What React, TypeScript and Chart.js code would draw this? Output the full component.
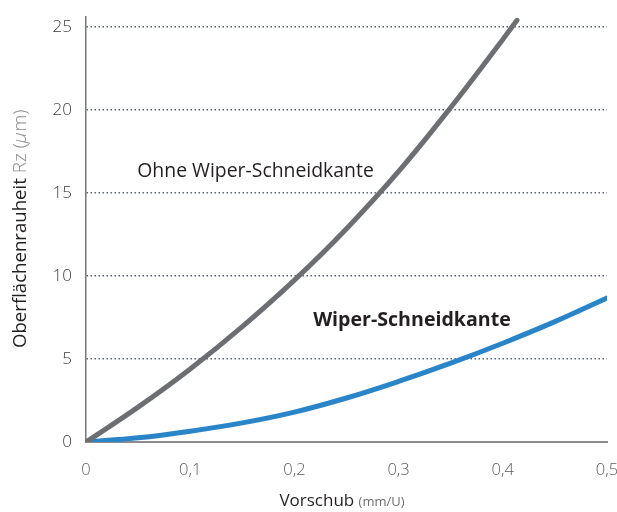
import React, { useEffect, useRef } from "react";
import { Chart, registerables } from "chart.js";

Chart.register(...registerables);

const xTicks = [0, 0.1, 0.2, 0.3, 0.4, 0.5];
const xTickLabels = ["0", "0,1", "0,2", "0,3", "0,4", "0,5"];
const yTicks = [0, 5, 10, 15, 20, 25];

const ohneX = [0, 0.05, 0.1, 0.15, 0.2, 0.25, 0.3, 0.35, 0.4, 0.4136];
const ohneY = [0, 2.1, 4.4, 6.95, 9.75, 12.85, 16.3, 20.15, 24.25, 25.4];

const wiperX = [0, 0.05, 0.1, 0.15, 0.2, 0.25, 0.3, 0.35, 0.4, 0.45, 0.5];
const wiperY = [0, 0.25, 0.65, 1.15, 1.8, 2.65, 3.65, 4.75, 5.95, 7.25, 8.67];

const labelOhne = "Ohne Wiper-Schneidkante";
const labelWiper = "Wiper-Schneidkante";
const xTitleMain = "Vorschub";
const xTitleUnit = "(mm/U)";
const yTitleMain = "Oberflächenrauheit";
const yTitleUnitParts = ["Rz (", "µ", "m)"];

const FONT = "'Open Sans', 'Noto Sans', sans-serif";

const textPlugin = {
  id: "texts",
  afterDraw(chart: any) {
    const ctx = chart.ctx;
    const xs = chart.scales.x;
    const ys = chart.scales.y;
    ctx.save();
    // annotations
    ctx.fillStyle = "#231f20";
    ctx.textBaseline = "middle";
    ctx.textAlign = "left";
    ctx.font = `400 19.4px ${FONT}`;
    ctx.fillText(labelOhne, xs.getPixelForValue(0.0492), ys.getPixelForValue(16.3));
    ctx.font = `700 19.6px ${FONT}`;
    ctx.fillText(labelWiper, xs.getPixelForValue(0.218), ys.getPixelForValue(7.3));

    // x title
    ctx.font = `400 17px ${FONT}`;
    const w1 = ctx.measureText(xTitleMain + " ").width;
    ctx.font = `400 13px ${FONT}`;
    const w2 = ctx.measureText(xTitleUnit).width;
    const cx = 342;
    const sx = cx - (w1 + w2) / 2;
    ctx.textBaseline = "alphabetic";
    ctx.font = `400 17px ${FONT}`;
    ctx.fillStyle = "#231f20";
    ctx.fillText(xTitleMain + " ", sx, 505.5);
    ctx.font = `400 13px ${FONT}`;
    ctx.fillStyle = "#6d6e71";
    ctx.fillText(xTitleUnit, sx + w1, 505.5);

    // y title
    ctx.translate(26, 348);
    ctx.rotate(-Math.PI / 2);
    ctx.font = `400 18.6px ${FONT}`;
    ctx.fillStyle = "#231f20";
    ctx.fillText(yTitleMain + " ", 0, 0);
    let px = ctx.measureText(yTitleMain + " ").width;
    ctx.fillStyle = "#8a8b8e";
    yTitleUnitParts.forEach((p, i) => {
      ctx.font = i === 1 ? `italic 300 19px ${FONT}` : `300 19px ${FONT}`;
      ctx.fillText(p, px, 0);
      px += ctx.measureText(p).width + (i === 1 ? 1 : 0);
    });
    ctx.restore();
  },
};

export default function App() {
  const ref = useRef<HTMLCanvasElement>(null);
  useEffect(() => {
    document.body.style.margin = "0";
    const canvas = ref.current!;
    const chart = new Chart(canvas, {
      type: "line",
      data: {
        datasets: [
          {
            label: labelOhne,
            data: ohneX.map((x, i) => ({ x, y: ohneY[i] })),
            borderColor: "#6d6e71",
            borderWidth: 5,
            pointRadius: 0,
            tension: 0.4,
            borderCapStyle: "round",
          },
          {
            label: labelWiper,
            data: wiperX.map((x, i) => ({ x, y: wiperY[i] })),
            borderColor: "#2a84c8",
            borderWidth: 5,
            pointRadius: 0,
            tension: 0.4,
            borderCapStyle: "round",
          },
        ],
      },
      options: {
        animation: false,
        responsive: false,
        layout: { padding: { top: 17, right: 10, left: 0, bottom: 0 } },
        plugins: { legend: { display: false }, tooltip: { enabled: false } },
        scales: {
          x: {
            type: "linear",
            min: 0,
            max: 0.5,
            afterFit: (s: any) => {
              s.height = 70;
              s.paddingLeft = 0;
              s.paddingRight = 0;
            },
            afterBuildTicks: (s: any) => {
              s.ticks = xTicks.map((v) => ({ value: v }));
            },
            ticks: {
              callback: (_v: any, i: number) => xTickLabels[i],
              color: "#5f6062",
              font: { family: FONT, size: 16.5, weight: 300 },
              padding: 10,
              maxRotation: 0,
            },
            grid: { display: false },
            border: { color: "#8c8c8c", width: 2 },
          },
          y: {
            type: "linear",
            min: 0,
            max: 25.6,
            afterFit: (s: any) => {
              s.width = 86;
              s.paddingTop = 0;
              s.paddingBottom = 0;
            },
            afterBuildTicks: (s: any) => {
              s.ticks = yTicks.map((v) => ({ value: v }));
            },
            ticks: {
              color: "#3f4042",
              font: { family: FONT, size: 17, weight: 300 },
              padding: 14,
            },
            grid: {
              drawTicks: false,
              color: (c: any) => (c.tick && c.tick.value === 0 ? "rgba(0,0,0,0)" : "#5b6272"),
              lineWidth: 1.5,
            },
            border: { color: "#777777", width: 1.5, dash: [1.5, 2.5] } as any,
          },
        },
      },
      plugins: [textPlugin],
    } as any);
    return () => chart.destroy();
  }, []);
  return <canvas ref={ref} width={617} height={512} style={{ display: "block" }} />;
}
